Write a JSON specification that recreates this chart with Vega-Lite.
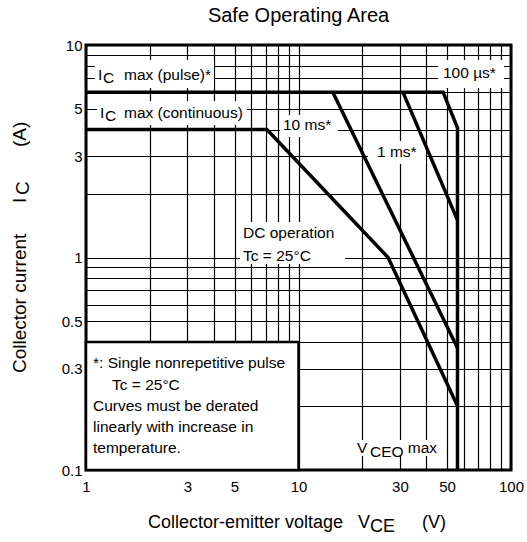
{
  "$schema": "https://vega.github.io/schema/vega-lite/v6.json",
  "width": 425,
  "height": 425,
  "autosize": {"type": "none"},
  "padding": {"left": 86, "top": 45, "right": 16, "bottom": 72},
  "background": "white",
  "title": {"text": "Safe Operating Area", "fontSize": 20, "font": "Liberation Sans", "fontWeight": "normal", "color": "black", "anchor": "middle", "offset": 12},
  "config": {
    "view": {"stroke": "black", "strokeWidth": 3},
    "font": "Liberation Sans"
  },
  "datasets": {
    "boxes": [
      {"x": 1.102, "x2": 4.004, "y": 6.276, "y2": 8.5},
      {"x": 45.35, "x2": 92.7, "y": 6.276, "y2": 8.5},
      {"x": 1.126, "x2": 5.723, "y": 4.203, "y2": 5.452},
      {"x": 8.185, "x2": 15.34, "y": 3.69, "y2": 4.684},
      {"x": 21.23, "x2": 39.81, "y": 2.754, "y2": 3.534},
      {"x": 5.305, "x2": 16.55, "y": 0.932, "y2": 1.469},
      {"x": 18.24, "x2": 46.35, "y": 0.1164, "y2": 0.1384}
    ],
    "notebox": [
      {"x": 1, "x2": 10, "y": 0.1, "y2": 0.4}
    ],
    "curves": [
      {"s": "pulse", "o": 1, "x": 1, "y": 6},
      {"s": "pulse", "o": 2, "x": 47.9, "y": 6},
      {"s": "pulse", "o": 3, "x": 56, "y": 4.07},
      {"s": "pulse", "o": 4, "x": 56, "y": 0.1},
      {"s": "dc", "o": 1, "x": 1, "y": 4},
      {"s": "dc", "o": 2, "x": 7.1, "y": 4},
      {"s": "dc", "o": 3, "x": 26.4, "y": 1},
      {"s": "dc", "o": 4, "x": 56, "y": 0.2},
      {"s": "10ms", "o": 1, "x": 14.5, "y": 6},
      {"s": "10ms", "o": 2, "x": 56, "y": 0.375},
      {"s": "1ms", "o": 1, "x": 31, "y": 6},
      {"s": "1ms", "o": 2, "x": 56, "y": 1.5}
    ],
    "labels": [
      {"x": 1.139, "y": 7.225, "t": "I"},
      {"x": 1.202, "y": 6.995, "t": "C"},
      {"x": 1.509, "y": 7.225, "t": "max (pulse)*"},
      {"x": 1.164, "y": 4.786, "t": "I"},
      {"x": 1.229, "y": 4.634, "t": "C"},
      {"x": 1.509, "y": 4.786, "t": "max (continuous)"},
      {"x": 8.453, "y": 4.203, "t": "10 ms*"},
      {"x": 23.41, "y": 3.137, "t": "1 ms*"},
      {"x": 47.86, "y": 7.383, "t": "100 µs*"},
      {"x": 5.482, "y": 1.304, "t": "DC operation"},
      {"x": 5.482, "y": 1.016, "t": "Tc = 25°C"},
      {"x": 1.079, "y": 0.3188, "t": "*: Single nonrepetitive pulse"},
      {"x": 1.325, "y": 0.2512, "t": "Tc = 25°C"},
      {"x": 1.079, "y": 0.2001, "t": "Curves must be derated"},
      {"x": 1.079, "y": 0.1594, "t": "linearly with increase in"},
      {"x": 1.079, "y": 0.1269, "t": "temperature."},
      {"x": 18.85, "y": 0.1269, "t": "V"},
      {"x": 21.7, "y": 0.1215, "t": "CEO"},
      {"x": 32.7, "y": 0.1269, "t": "max"}
    ],
    "xtitle": [
      {"x": 1.957, "y": 0.05631, "t": "Collector-emitter voltage"},
      {"x": 19.05, "y": 0.05631, "t": "V"},
      {"x": 21.7, "y": 0.05383, "t": "CE"},
      {"x": 38.13, "y": 0.05631, "t": "(V)"}
    ],
    "ytitle": [
      {"x": 0.4891, "y": 0.286, "t": "Collector current"},
      {"x": 0.4891, "y": 1.805, "t": "I"},
      {"x": 0.5075, "y": 1.968, "t": "C"},
      {"x": 0.4891, "y": 3.311, "t": "(A)"}
    ]
  },
  "layer": [
    {
      "data": {"name": "boxes"},
      "mark": {"type": "rect", "fill": "white", "strokeWidth": 0},
      "encoding": {
        "x": {"field": "x", "type": "quantitative", "title": null,
          "scale": {"type": "log", "domain": [1, 100], "nice": false},
          "axis": {"title": null, "values": [1,2,3,4,5,6,7,8,9,10,20,30,40,50,60,70,80,90,100],
            "grid": true, "gridColor": "black", "gridWidth": 1.2, "gridOpacity": 1,
            "ticks": false, "domain": false, "labelFontSize": 15, "labelFont": "Liberation Sans",
            "labelColor": "black", "labelPadding": 9, "labelFlush": false, "labelOverlap": false,
            "labelExpr": "indexof([1,3,5,10,30,50,100], datum.value) >= 0 ? format(datum.value, '~g') : ''"}},
        "x2": {"field": "x2"},
        "y": {"field": "y", "type": "quantitative", "title": null,
          "scale": {"type": "log", "domain": [0.1, 10], "nice": false},
          "axis": {"title": null, "values": [0.1,0.2,0.3,0.4,0.5,0.6,0.7,0.8,0.9,1,2,3,4,5,6,7,8,9,10],
            "grid": true, "gridColor": "black", "gridWidth": 1.2, "gridOpacity": 1,
            "ticks": false, "domain": false, "labelFontSize": 15, "labelFont": "Liberation Sans",
            "labelColor": "black", "labelPadding": 4, "labelFlush": false, "labelOverlap": false,
            "labelExpr": "indexof([0.1,0.3,0.5,1,3,5,10], datum.value) >= 0 ? format(datum.value, '~g') : ''"}},
        "y2": {"field": "y2"}
      }
    },
    {
      "data": {"name": "notebox"},
      "mark": {"type": "rect", "fill": "white", "stroke": "black", "strokeWidth": 2.5},
      "encoding": {
        "x": {"field": "x", "type": "quantitative", "title": null},
        "x2": {"field": "x2"},
        "y": {"field": "y", "type": "quantitative", "title": null},
        "y2": {"field": "y2"}
      }
    },
    {
      "data": {"name": "curves"},
      "mark": {"type": "line", "stroke": "black", "strokeWidth": 3.5, "strokeJoin": "miter", "strokeCap": "butt"},
      "encoding": {
        "x": {"field": "x", "type": "quantitative", "title": null},
        "y": {"field": "y", "type": "quantitative", "title": null},
        "detail": {"field": "s", "type": "nominal"},
        "order": {"field": "o", "type": "quantitative"}
      }
    },
    {
      "data": {"name": "labels"},
      "mark": {"type": "text", "align": "left", "baseline": "middle", "fontSize": 15.5, "font": "Liberation Sans", "color": "black"},
      "encoding": {
        "x": {"field": "x", "type": "quantitative", "title": null},
        "y": {"field": "y", "type": "quantitative", "title": null},
        "text": {"field": "t", "type": "nominal"}
      }
    },
    {
      "data": {"name": "xtitle"},
      "mark": {"type": "text", "align": "left", "baseline": "middle", "fontSize": 18, "font": "Liberation Sans", "color": "black"},
      "encoding": {
        "x": {"field": "x", "type": "quantitative", "title": null},
        "y": {"field": "y", "type": "quantitative", "title": null},
        "text": {"field": "t", "type": "nominal"}
      }
    },
    {
      "data": {"name": "ytitle"},
      "mark": {"type": "text", "align": "left", "baseline": "middle", "angle": 270, "fontSize": 19, "font": "Liberation Sans", "color": "black"},
      "encoding": {
        "x": {"field": "x", "type": "quantitative", "title": null},
        "y": {"field": "y", "type": "quantitative", "title": null},
        "text": {"field": "t", "type": "nominal"}
      }
    }
  ]
}
